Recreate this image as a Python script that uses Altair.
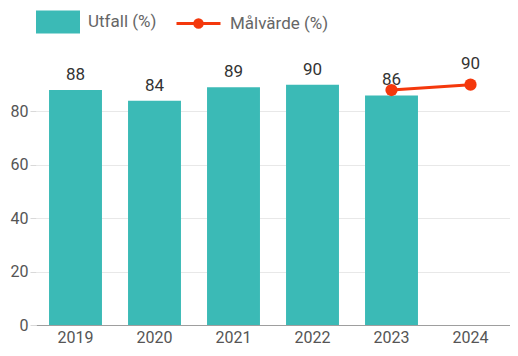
import altair as alt
import pandas as pd

years = ["2019", "2020", "2021", "2022", "2023", "2024"]
utfall = [88, 84, 89, 90, 86, None]
malvarde_years = ["2023", "2024"]
malvarde = [88, 90]
malvarde_labels = ["", "90"]

BAR = "#3bbab6"
RED = "#f4380c"

bars_df = pd.DataFrame({"year": years[:5], "value": utfall[:5], "serie": "Utfall (%)"})
line_df = pd.DataFrame({"year": malvarde_years, "value": malvarde,
                        "label": malvarde_labels, "serie": "Målvärde (%)"})

x = alt.X("year:N", scale=alt.Scale(domain=years, paddingInner=0.33, paddingOuter=0.165),
          axis=alt.Axis(title=None, labelAngle=0, ticks=False, domainColor="#9e9e9e",
                        labelColor="#555", labelFontSize=16, labelPadding=4, grid=False))
y = alt.Y("value:Q", scale=alt.Scale(domain=[0, 100], nice=False),
          axis=alt.Axis(title=None, values=[0, 20, 40, 60, 80], domain=False, tickSize=6,
                        tickColor="#d9d9d9", gridColor="#e8e8e8", labelColor="#555",
                        labelFontSize=16, labelPadding=2))

rect_path = "M-1,-0.52H1V0.52H-1Z"
line_path = "M-1,0H1M-0.17,0A0.17,0.17 0 1,0 0.17,0A0.17,0.17 0 1,0 -0.17,0"

bars = alt.Chart(bars_df).mark_bar().encode(
    x=x, y=y,
    fill=alt.Fill("serie:N", scale=alt.Scale(domain=["Utfall (%)"], range=[BAR]),
                  legend=alt.Legend(title=None, orient="none", legendX=0, legendY=-58,
                                    symbolType=rect_path, symbolSize=1936,
                                    symbolStrokeWidth=0, symbolOpacity=1,
                                    labelFontSize=17, labelColor="#666", labelFont="Roboto",
                                    labelOffset=8)),
)
bar_text = alt.Chart(bars_df).mark_text(baseline="alphabetic", dy=-10, fontSize=17,
                                        color="#333", font="Roboto").encode(
    x=x, y=y, text="value:Q")

line = alt.Chart(line_df).mark_line(strokeWidth=3).encode(
    x=x, y=y,
    stroke=alt.Stroke("serie:N", scale=alt.Scale(domain=["Målvärde (%)"], range=[RED]),
                      legend=alt.Legend(title=None, orient="none", legendX=139, legendY=-58,
                                        symbolType=line_path, symbolSize=1936,
                                        symbolStrokeWidth=3, symbolFillColor=RED,
                                        labelFontSize=17, labelColor="#666",
                                        labelFont="Roboto", labelOffset=8)),
)
pts = alt.Chart(line_df).mark_point(filled=True, size=150, opacity=1, color=RED).encode(x=x, y=y)
line_text = alt.Chart(line_df).mark_text(baseline="alphabetic", dy=-16, fontSize=17,
                                         color="#333", font="Roboto").encode(
    x=x, y=y, text="label:N")

chart = alt.layer(bars, bar_text, line, pts, line_text).resolve_legend(
    fill="independent", stroke="independent"
).properties(
    width=474, height=267,
    padding={"left": 28, "top": 50, "right": 0, "bottom": 23},
    autosize=alt.AutoSizeParams(type="none"),
    view=alt.ViewBackground(strokeWidth=0, strokeOpacity=0, stroke="transparent"),
).configure_view(strokeWidth=0, strokeOpacity=0).configure_axis(
    labelFont="Roboto"
).configure(font="Roboto")

chart.save("out.html", embed_options={"renderer": "svg", "actions": False})
